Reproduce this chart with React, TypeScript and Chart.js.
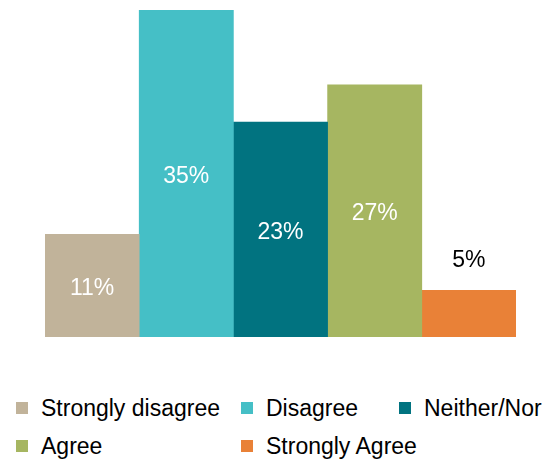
import React, { useEffect, useRef } from "react";
import { Chart, registerables } from "chart.js";

Chart.register(...registerables);

const categories = ["Strongly disagree", "Disagree", "Neither/Nor", "Agree", "Strongly Agree"];
const values = [11, 35, 23, 27, 5];
const colors = ["#C1B39A", "#45BFC6", "#017380", "#A6B661", "#E98137"];
const valueLabels = ["11%", "35%", "23%", "27%", "5%"];

// legend grid placement (row, column) for each category
const legendRows = [0, 0, 0, 1, 1];
const legendCols = [0, 1, 2, 0, 1];
const colX = [16, 241, 399];
const rowY = [402, 440];

const FONT = "'Liberation Sans', Arial, Helvetica, sans-serif";

const labelPlugin = {
  id: "valueLabels",
  afterDatasetsDraw(chart: any) {
    const ctx = chart.ctx;
    ctx.save();
    ctx.font = `23px ${FONT}`;
    ctx.textAlign = "center";
    ctx.textBaseline = "alphabetic";
    chart.data.datasets.forEach((ds: any, i: number) => {
      const meta = chart.getDatasetMeta(i);
      const el = meta.data[0];
      if (!el) return;
      const v = ds.data[0];
      const text = valueLabels[i];
      if (v >= 10) {
        ctx.fillStyle = "#FFFFFF";
        const mid = (el.y + el.base) / 2;
        ctx.fillText(text, el.x, mid + 9);
      } else {
        ctx.fillStyle = "#000000";
        ctx.fillText(text, el.x, el.y - 23);
      }
    });
    ctx.restore();
  },
};

export default function App() {
  const canvasRef = useRef<HTMLCanvasElement | null>(null);

  useEffect(() => {
    if (!canvasRef.current) return;
    const chart = new Chart(canvasRef.current, {
      type: "bar",
      data: {
        labels: [""],
        datasets: categories.map((c, i) => ({
          label: c,
          data: [values[i]],
          backgroundColor: colors[i],
          borderWidth: 0,
          categoryPercentage: 1,
          barPercentage: 1,
        })),
      },
      options: {
        responsive: false,
        animation: false,
        layout: { padding: { left: 45, right: 34, top: 10, bottom: 13 } },
        plugins: {
          legend: { display: false },
          tooltip: { enabled: false },
        },
        scales: {
          x: { display: false, grid: { display: false } },
          y: { display: false, min: 0, max: 35, grid: { display: false } },
        },
      },
      plugins: [labelPlugin],
    });
    return () => chart.destroy();
  }, []);

  return (
    <div
      style={{
        position: "absolute",
        left: 0,
        top: 0,
        width: 550,
        height: 461,
        background: "#FFFFFF",
        fontFamily: FONT,
        overflow: "hidden",
      }}
    >
      <canvas ref={canvasRef} width={550} height={350} style={{ display: "block" }} />
      {categories.map((c, i) => (
        <div
          key={c}
          style={{
            position: "absolute",
            left: colX[legendCols[i]],
            top: rowY[legendRows[i]] - 9,
            display: "flex",
            alignItems: "center",
            height: 30,
            whiteSpace: "nowrap",
          }}
        >
          <span
            style={{
              display: "inline-block",
              width: 12,
              height: 12,
              background: colors[i],
              marginRight: 13,
            }}
          />
          <span style={{ fontSize: 23, color: "#000", lineHeight: "30px" }}>{c}</span>
        </div>
      ))}
    </div>
  );
}
